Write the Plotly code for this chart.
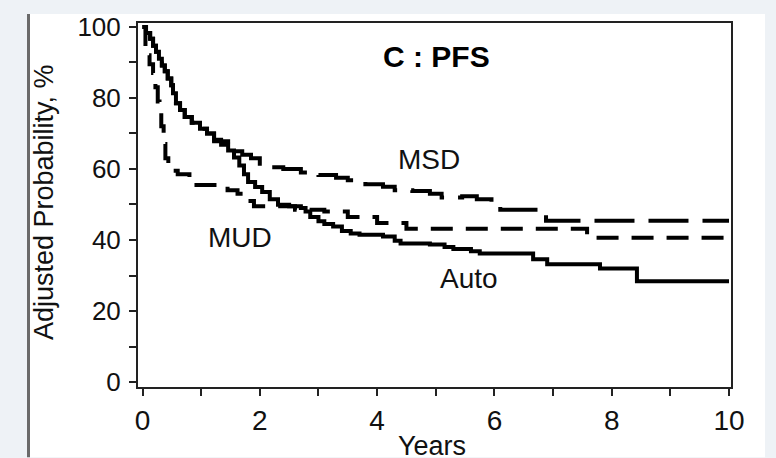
import plotly.graph_objects as go

# ---- data ----
auto_years = [0, 0.06, 0.13, 0.18, 0.23, 0.28, 0.33, 0.38, 0.43, 0.49, 0.52, 0.57, 0.64, 0.72, 0.84, 0.98,
              1.1, 1.22, 1.34, 1.46, 1.56, 1.65, 1.73, 1.8, 1.92, 2.04, 2.17, 2.31, 2.5, 2.7, 2.78, 2.86,
              3.0, 3.1, 3.25, 3.4, 3.55, 3.7, 4.1, 4.3, 4.4, 4.9, 5.15, 5.3, 5.6, 5.75, 6.66, 6.9,
              7.8, 8.43, 10]
auto_prob = [100, 98.3, 96.7, 94.7, 93, 91, 89.1, 87.5, 85.5, 83.6, 81.3, 78.5, 76.6, 74.6, 73, 71.3,
             70, 68.2, 66.8, 65.2, 63.2, 61, 58.5, 56.3, 54.9, 53.5, 51.5, 49.9, 49.5, 49, 48, 46.5,
             45.3, 44.5, 43.8, 42.5, 41.8, 41.5, 41, 39.8, 39, 38.7, 38, 37.5, 36.8, 36.2, 34.6, 33.2,
             32, 28.4, 28.4]

msd_years = [0, 0.06, 0.13, 0.18, 0.23, 0.28, 0.33, 0.38, 0.43, 0.49, 0.52, 0.57, 0.64, 0.72, 0.84, 0.98,
             1.1, 1.22, 1.46, 1.56, 1.7, 1.85, 2.0, 2.15, 2.4, 2.7, 3.0, 3.3, 3.5, 3.8, 4.1,
             4.3, 4.6, 4.9, 5.1, 5.45, 5.7, 5.95, 6.1, 6.88, 10]
msd_prob = [100, 98.3, 96.7, 94.7, 93, 91, 89.1, 87.5, 85.5, 83.6, 81.3, 78.5, 76.6, 74.6, 73, 71.3,
            70, 67.8, 66.3, 65, 64, 63, 61.5, 60.5, 60, 59, 58.3, 57.5, 56.8, 55.7, 55,
            54, 53.8, 53, 52, 52.3, 51.5, 50.7, 48.5, 45.4, 45.4]

mud_years = [0, 0.05, 0.12, 0.18, 0.22, 0.26, 0.29, 0.32, 0.36, 0.39, 0.44, 0.6, 0.8, 0.88, 1.3, 1.45,
             1.62, 1.75, 1.9, 2.6, 3.1, 3.5, 4.0, 4.5, 7.58, 10]
mud_prob = [100, 92, 89.5, 87, 83, 79, 76, 72, 67, 63, 59.5, 58.5, 57.5, 55.5, 55, 54,
            53, 51, 49.5, 48.5, 48, 46.5, 44.8, 43.2, 40.6, 40.6]

x_ticks = [0, 2, 4, 6, 8, 10]
y_ticks = [0, 20, 40, 60, 80, 100]

FONT = "Liberation Sans, Arial, Helvetica, sans-serif"

fig = go.Figure()
fig.add_trace(go.Scatter(x=auto_years, y=auto_prob, mode="lines", line_shape="hv",
                         line=dict(color="black", width=4), name="Auto"))
fig.add_trace(go.Scatter(x=msd_years, y=msd_prob, mode="lines", line_shape="hv",
                         line=dict(color="black", width=4, dash="40px,14px"), name="MSD"))
fig.add_trace(go.Scatter(x=mud_years, y=mud_prob, mode="lines", line_shape="hv",
                         line=dict(color="black", width=4, dash="22px,13px"), name="MUD"))

def px_x(p):
    return (p - 138) / 593.0

def px_y(p):
    return (387 - p) / 368.0

shapes = [
    dict(type="rect", xref="paper", yref="paper", x0=px_x(30), x1=px_x(765), y0=px_y(458), y1=px_y(10),
         fillcolor="white", line=dict(width=0), layer="below"),
    dict(type="rect", xref="paper", yref="paper", x0=px_x(27), x1=px_x(30), y0=px_y(458), y1=px_y(10),
         fillcolor="#6a6a6a", line=dict(width=0), layer="below"),
]

annotations = [
    dict(x=5.02, y=91.6, text="<b>C : PFS</b>", showarrow=False, font=dict(size=30, color="black", family=FONT)),
    dict(x=4.89, y=62.7, text="MSD", showarrow=False, font=dict(size=28, color="#111", family=FONT)),
    dict(x=1.66, y=40.7, text="MUD", showarrow=False, font=dict(size=28, color="#111", family=FONT)),
    dict(x=5.57, y=29.1, text="Auto", showarrow=False, font=dict(size=28, color="#111", family=FONT)),
    dict(xref="paper", yref="paper", x=px_x(44), y=px_y(200), text="Adjusted Probability, %",
         textangle=-90, showarrow=False, xanchor="center", yanchor="middle",
         font=dict(size=27, color="#111", family=FONT)),
    dict(xref="paper", yref="paper", x=px_x(432), y=px_y(429), text="Years",
         showarrow=False, xanchor="center", yanchor="top",
         font=dict(size=27, color="#111", family=FONT)),
]

fig.update_layout(
    width=776, height=458,
    margin=dict(l=138, r=45, t=19, b=71),
    paper_bgcolor="#eef2f6",
    plot_bgcolor="white",
    showlegend=False,
    shapes=shapes,
    annotations=annotations,
    font=dict(family=FONT, color="#111"),
    xaxis=dict(range=[-0.077, 10.034], tickvals=x_ticks, ticks="outside", ticklen=7, tickwidth=2,
               tickcolor="#222", showline=True, linewidth=2, linecolor="#222", mirror=True,
               showgrid=False, zeroline=False, tickfont=dict(size=28, family=FONT, color="#111"),
               minor=dict(dtick=1, tick0=0, ticks="outside", ticklen=7, tickwidth=2, tickcolor="#222")),
    yaxis=dict(range=[-1.39, 101.1], tickvals=y_ticks, ticks="outside", ticklen=7, tickwidth=2,
               tickcolor="#222", showline=True, linewidth=2, linecolor="#222", mirror=True,
               showgrid=False, zeroline=False, tickfont=dict(size=26, family=FONT, color="#111"),
               ticklabelstandoff=3,
               minor=dict(dtick=10, tick0=0, ticks="outside", ticklen=7, tickwidth=2, tickcolor="#222")),
)

fig.write_html("out.html")
